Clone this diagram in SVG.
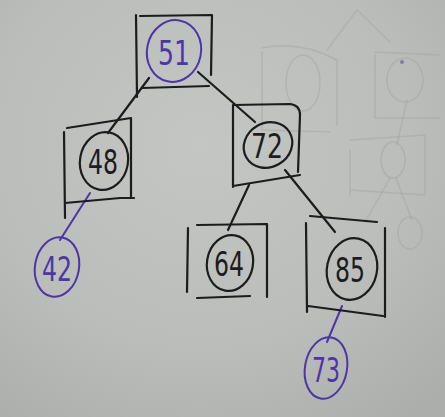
<svg xmlns="http://www.w3.org/2000/svg" width="445" height="417" viewBox="0 0 445 417">
<defs>
<radialGradient id="bg" cx="0.45" cy="0.35" r="0.8">
<stop offset="0" stop-color="#c4c6c3"/>
<stop offset="0.6" stop-color="#bbbdba"/>
<stop offset="1" stop-color="#acaeab"/>
</radialGradient>
<style>
.ink{fill:none;stroke:#1c1c1e;stroke-width:2.2;stroke-linecap:round;stroke-linejoin:round}
.pur{fill:none;stroke:#4d35a6;stroke-width:2;stroke-linecap:round;stroke-linejoin:round}
.ghost{fill:none;stroke:#a3a6a4;stroke-width:1.5;stroke-linecap:round;opacity:0.5}
.tk{font-family:"DejaVu Sans","Liberation Sans",sans-serif;font-size:34px;text-anchor:middle;fill:#1c1c1e}
.tp{font-family:"DejaVu Sans","Liberation Sans",sans-serif;font-size:34px;text-anchor:middle;fill:#4d35a6}
</style>
</defs>
<rect x="0" y="0" width="445" height="417" fill="url(#bg)"/>
<g id="bleed-through">
<path class="ghost" d="M357 10 L327 50 M357 10 L390 42"/>
<path class="ghost" d="M262 52 L262 130 M262 48 Q300 40 337 60 L337 125 M262 130 L330 132"/>
<ellipse class="ghost" cx="303" cy="83" rx="17" ry="28"/>
<path class="ghost" d="M375 55 L375 118 M375 52 L440 55 M375 118 L440 118"/>
<ellipse class="ghost" cx="405" cy="80" rx="18" ry="22"/>
<circle cx="402" cy="62" r="2" fill="#6a5aa8" opacity="0.7"/>
<path class="ghost" d="M407 100 L397 145"/>
<path class="ghost" d="M350 150 L350 195 M350 140 L425 135 L425 195 M350 190 L425 195"/>
<ellipse class="ghost" cx="393" cy="160" rx="12" ry="18"/>
<path class="ghost" d="M390 178 L365 222 M396 178 L412 220"/>
<ellipse class="ghost" cx="410" cy="233" rx="12" ry="16"/>
</g>
<g id="connectors">
<path class="ink" d="M149 78 L108 133"/>
<path class="ink" d="M198 72 L255 122"/>
<path class="ink" d="M249 185 L228 230"/>
<path class="ink" d="M285 170 L335 232"/>
<path class="pur" d="M90 193 L60 240"/>
<path class="pur" d="M342 306 L327 342"/>
</g>
<g id="node-51">
<path class="ink" d="M136 15 L137 97 M140 16 L212 15 L211 75 M142 88 L209 86"/>
<ellipse class="pur" cx="174" cy="51" rx="27" ry="31" transform="rotate(12 174 51)"/>
<text class="tp" x="174" y="65" textLength="32" lengthAdjust="spacingAndGlyphs">51</text>
</g>
<g id="node-48">
<path class="ink" d="M64 132 L65 218 M67 128 L131 118 L131 198 M65 203 L120 198 L134 198"/>
<ellipse class="ink" cx="104" cy="161" rx="24" ry="29" transform="rotate(10 104 161)"/>
<text class="tk" x="103" y="174" textLength="30" lengthAdjust="spacingAndGlyphs">48</text>
</g>
<g id="node-72">
<path class="ink" d="M233 105 L233 187 M233 105 L290 104 Q300 105 300 115 L298 172 M233 186 L300 175"/>
<ellipse class="ink" cx="268" cy="145" rx="25" ry="22" transform="rotate(-30 268 145)"/>
<text class="tk" x="267" y="158" textLength="32" lengthAdjust="spacingAndGlyphs">72</text>
</g>
<g id="node-64">
<path class="ink" d="M188 228 L187 292 M197 225 L267 224 L267 297 M197 298 L250 296"/>
<ellipse class="ink" cx="230" cy="263" rx="23" ry="28" transform="rotate(10 230 263)"/>
<text class="tk" x="229" y="276" textLength="30" lengthAdjust="spacingAndGlyphs">64</text>
</g>
<g id="node-85">
<path class="ink" d="M306 223 L307 312 M310 216 L377 222 M385 228 L385 317 M308 306 L383 316"/>
<ellipse class="ink" cx="352" cy="269" rx="25" ry="31" transform="rotate(12 352 269)"/>
<text class="tk" x="350" y="282" textLength="30" lengthAdjust="spacingAndGlyphs">85</text>
</g>
<g id="node-42">
<ellipse class="pur" cx="57" cy="267" rx="22" ry="30" transform="rotate(10 57 267)"/>
<text class="tp" x="57" y="281" textLength="30" lengthAdjust="spacingAndGlyphs">42</text>
</g>
<g id="node-73">
<ellipse class="pur" cx="326" cy="368" rx="21" ry="31" transform="rotate(10 326 368)"/>
<text class="tp" x="326" y="382" textLength="28" lengthAdjust="spacingAndGlyphs">73</text>
</g>
</svg>
